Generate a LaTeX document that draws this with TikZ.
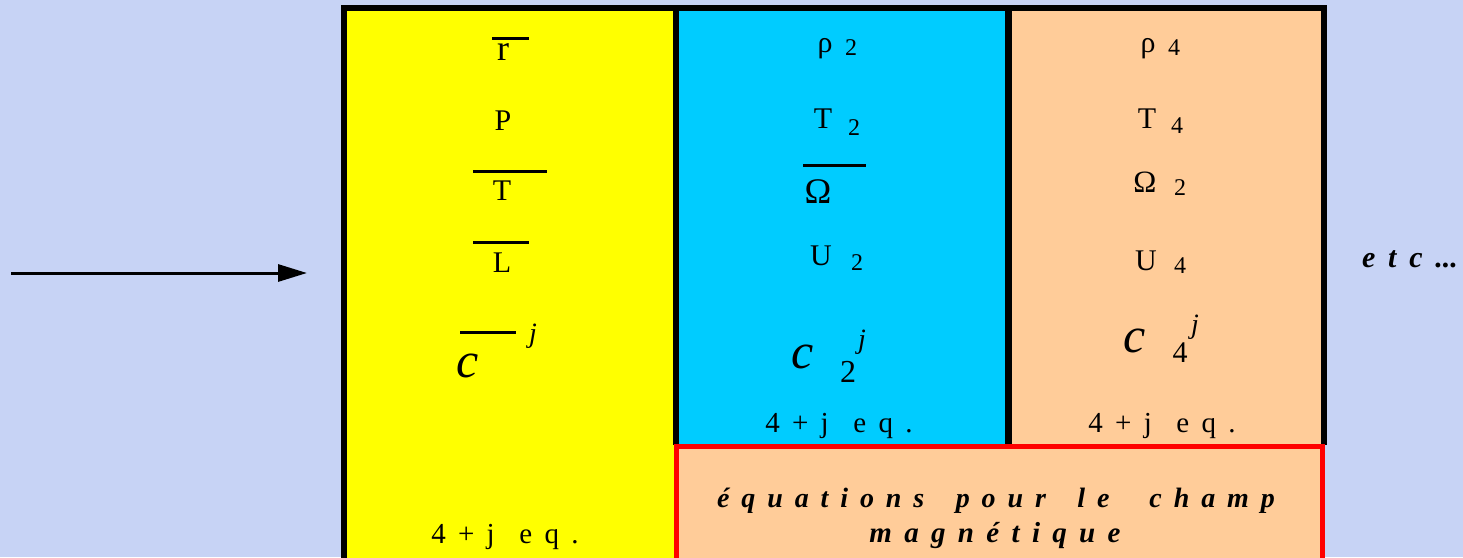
\documentclass[tikz,border=0pt]{standalone}
\usepackage{fontspec}
\setmainfont{Liberation Serif}[WordSpace=1.7]
\usetikzlibrary{arrows.meta,positioning}

\definecolor{bgblue}{RGB}{199,211,245}
\definecolor{colyellow}{RGB}{255,255,0}
\definecolor{colcyan}{RGB}{0,204,255}
\definecolor{colpeach}{RGB}{255,204,153}
\definecolor{colred}{RGB}{255,0,0}

\tikzset{
  sym/.style={inner sep=0pt, anchor=base, font=\fontsize{30}{36}\selectfont},
  idx/.style={inner sep=0pt, anchor=base, font=\fontsize{24}{28}\selectfont},
  cvar/.style={inner sep=0pt, anchor=base, font=\fontsize{50}{56}\selectfont\itshape},
  jexp/.style={inner sep=0pt, anchor=base, font=\fontsize{28}{32}\selectfont\itshape},
  eqcount/.style={inner sep=0pt, anchor=base, font=\fontsize{29}{34}\selectfont},
  spaced/.style={inner sep=0pt, anchor=base, font=\fontsize{28}{32}\selectfont\bfseries\itshape},
  bar/.style={line width=3pt},
}

\begin{document}
\begin{tikzpicture}[x=1pt,y=-1pt]
    \useasboundingbox (0,0) rectangle (1463,557);
    \clip (0,0) rectangle (1463,557);
    \fill[bgblue] (0,0) rectangle (1463,557);

    % Incoming arrow
    \coordinate (arrowtail) at (11,273);
    \coordinate (arrowtip) at (307,273);
    \draw[line width=3pt, -{Triangle[length=29pt,width=17pt]}] (arrowtail) -- (arrowtip);

    % Columns
    \fill[colyellow] (344,8) rectangle (676,600);
    \fill[colcyan] (676,8) rectangle (1008,445);
    \fill[colpeach] (1008,8) rectangle (1323,445);
    \fill[colpeach] (676,446) rectangle (1323,600);
    \draw[line width=6pt] (343.5,600) -- (343.5,8) -- (1323.5,8) -- (1323.5,445);
    \draw[line width=6pt] (676,8) -- (676,445);
    \draw[line width=7pt] (1008.5,8) -- (1008.5,445);
    \draw[colred, line width=5pt] (676,446.5) rectangle (1322.5,600);

    % Mean quantities
    \node[sym, font=\fontsize{36}{40}\selectfont] (rmean) at (503,60) {r};
    \draw[bar] (492,38) -- (529,38);
    \node[sym] (pmean) at (503,130) {P};
    \node[sym] (tmean) at (502,200) {T};
    \draw[bar] (473,171) -- (547,171);
    \node[sym] (lmean) at (502,272) {L};
    \draw[bar] (473,242) -- (529,242);
    \node[cvar] (cmean) at (468,377) {c};
    \draw[bar] (460,332) -- (516,332);
    \node[jexp] (jmean) at (533,342) {j};
    \node[eqcount] (eqmean) at (505,543) {4 + j\ \ e q .};

    % Order 2
    \node[sym] (rhotwo) at (825,52) {ρ};
    \node[idx] (rhotwoidx) at (851,55) {2};
    \node[sym] (ttwo) at (823,128) {T};
    \node[idx] (ttwoidx) at (854,135) {2};
    \node[sym, font=\fontsize{36}{40}\selectfont] (omegamean) at (818,203) {Ω};
    \draw[bar] (803,165) -- (866,165);
    \node[sym] (utwo) at (821,265) {U};
    \node[idx] (utwoidx) at (857,270) {2};
    \node[cvar] (ctwo) at (803,368) {c};
    \node[sym, font=\fontsize{32}{36}\selectfont] (ctwoidx) at (848,382) {2};
    \node[jexp] (jtwo) at (862,348) {j};
    \node[eqcount] (eqtwo) at (839,432) {4 + j\ \ e q .};

    % Order 4
    \node[sym] (rhofour) at (1148,52) {ρ};
    \node[idx] (rhofouridx) at (1174,55) {4};
    \node[sym] (tfour) at (1147,128) {T};
    \node[idx] (tfouridx) at (1177,133) {4};
    \node[sym, font=\fontsize{31}{36}\selectfont] (omegatwo) at (1145,192) {Ω};
    \node[idx] (omegatwoidx) at (1180,195) {2};
    \node[sym] (ufour) at (1146,270) {U};
    \node[idx] (ufouridx) at (1180,273) {4};
    \node[cvar] (cfour) at (1135,352) {c};
    \node[sym] (cfouridx) at (1180,362) {4};
    \node[jexp] (jfour) at (1195,333) {j};
    \node[eqcount] (eqfour) at (1162,432) {4 + j\ \ e q .};

    % Magnetic field
    \node[spaced] (magA) at (996,507) {é q u a t i o n s\hspace{0.7em} p o u r\hspace{0.7em} l e\hspace{1em} c h a m p};
    \node[spaced, font=\fontsize{29}{32}\selectfont\bfseries\itshape] (magB) at (995,542) {m a g n é t i q u e};

    \node[spaced, font=\fontsize{30}{34}\selectfont\bfseries\itshape] (etc) at (1410,267) {e t c ...};
\end{tikzpicture}
\end{document}
